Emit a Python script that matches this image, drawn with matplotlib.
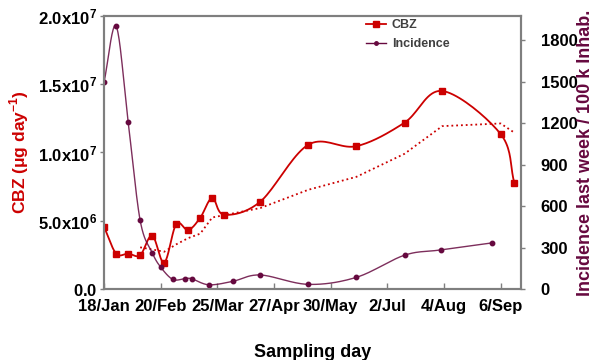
import numpy as np
import pandas as pd
import matplotlib
matplotlib.use("Agg")
import matplotlib.pyplot as plt

plt.rcParams['font.family'] = ['Liberation Sans', 'DejaVu Sans']
plt.rcParams['mathtext.fontset'] = 'custom'
plt.rcParams['mathtext.rm'] = 'Liberation Sans'
plt.rcParams['mathtext.bf'] = 'Liberation Sans:bold'

# === data (days counted from 18/Jan) ===
cbz_days = [0, 7, 14, 21, 28, 35, 42, 49, 56, 63, 70, 91, 119, 147, 175, 197, 231, 239]
cbz_values = [4.54e6, 2.60e6, 2.60e6, 2.48e6, 3.92e6, 1.93e6, 4.76e6, 4.32e6, 5.22e6,
              6.67e6, 5.44e6, 6.40e6, 10.57e6, 10.46e6, 12.18e6, 14.50e6, 11.35e6, 7.77e6]

inc_days = [0, 7, 14, 21, 28, 33, 40, 47, 51, 61, 75, 91, 119, 147, 175, 196, 226]
inc_values = [1500, 1900, 1208, 496, 264, 158, 70, 75, 75, 31, 56, 102, 34, 85, 245, 283, 334]

tick_days = [0, 33, 66, 99, 132, 165, 198, 231]
tick_labels = ['18/Jan', '20/Feb', '25/Mar', '27/Apr', '30/May', '2/Jul', '4/Aug', '6/Sep']

left_ticks = [0, 5e6, 1e7, 1.5e7, 2e7]
left_labels = [r'$\mathbf{0.0}$', r'$\mathbf{5.0x10^{6}}$', r'$\mathbf{1.0x10^{7}}$',
               r'$\mathbf{1.5x10^{7}}$', r'$\mathbf{2.0x10^{7}}$']
right_ticks = [0, 300, 600, 900, 1200, 1500, 1800]

red = '#CC0000'
maroon = '#66093F'
grey = '#7f7f7f'


def smooth(x, y, n=20):
    # Catmull-Rom curve through the points
    x = np.asarray(x, float)
    y = np.asarray(y, float)
    px = np.concatenate([[2 * x[0] - x[1]], x, [2 * x[-1] - x[-2]]])
    py = np.concatenate([[2 * y[0] - y[1]], y, [2 * y[-1] - y[-2]]])
    t = np.linspace(0, 1, n, endpoint=False)
    xs, ys = [], []
    for i in range(1, len(px) - 2):
        for p, out in ((px, xs), (py, ys)):
            p0, p1, p2, p3 = p[i - 1], p[i], p[i + 1], p[i + 2]
            out.extend(0.5 * (2 * p1 + (-p0 + p2) * t + (2 * p0 - 5 * p1 + 4 * p2 - p3) * t ** 2
                              + (-p0 + 3 * p1 - 3 * p2 + p3) * t ** 3))
    xs.append(x[-1])
    ys.append(y[-1])
    return np.array(xs), np.array(ys)


fig = plt.figure(figsize=(5.95, 3.6), dpi=100)
ax = fig.add_axes([0.175, 0.197, 0.701, 0.759])
ax2 = ax.twinx()

# CBZ
sx, sy = smooth(cbz_days, cbz_values)
ax.plot(sx, sy, color=red, lw=1.3, zorder=3)
ax.plot(cbz_days, cbz_values, 's', color=red, ms=4.5, zorder=4)
trend = pd.Series(cbz_values).rolling(4).mean()
ax.plot(cbz_days, trend, ':', color=red, lw=1.3, zorder=2)

# Incidence
ix, iy = smooth(inc_days, inc_values)
ax2.plot(ix, iy, color=maroon, lw=1.0, alpha=0.85)
ax2.plot(inc_days, inc_values, 'o', color=maroon, ms=3.2)

ax.set_xlim(0, 243)
ax.set_ylim(0, 2.0e7)
ax2.set_ylim(0, 1976)

ax.set_xticks(tick_days)
ax.set_xticklabels(tick_labels, fontsize=12, fontweight='bold')
ax.set_yticks(left_ticks)
ax.set_yticklabels(left_labels, fontsize=12)
ax2.set_yticks(right_ticks)
ax2.set_yticklabels([str(v) for v in right_ticks], fontsize=12, fontweight='bold')

ax.tick_params(axis='x', direction='in', length=4, color=grey, width=1, pad=7)
ax.tick_params(axis='y', direction='out', length=3, color=grey, width=1, pad=2)
ax2.tick_params(axis='y', direction='out', length=3, color=grey, width=1, pad=11)

for a in (ax, ax2):
    for s in a.spines.values():
        s.set_color(grey)
        s.set_linewidth(1.5)

ax.set_xlabel('Sampling day', fontsize=13, fontweight='bold', labelpad=22)
ax.set_ylabel('CBZ (μg day$^{\\mathbf{-1}}$)', fontsize=12.5, fontweight='bold', color=red, labelpad=5)
ax2.set_ylabel('Incidence last week / 100 k Inhab.', fontsize=13, fontweight='bold',
               color=maroon, labelpad=0)

h1, = ax.plot([], [], '-s', color=red, ms=4, lw=1.3)
h2, = ax.plot([], [], '-o', color=maroon, ms=2.5, lw=1.0)
leg = ax.legend([h1, h2], ['CBZ', 'Incidence'], loc='upper left', bbox_to_anchor=(0.6, 1.03),
                frameon=False, fontsize=9, handlelength=1.6, handletextpad=0.5, labelspacing=0.6)
for t in leg.get_texts():
    t.set_color('#404040')
    t.set_fontweight('bold')

fig.savefig('out.png', dpi=100)
